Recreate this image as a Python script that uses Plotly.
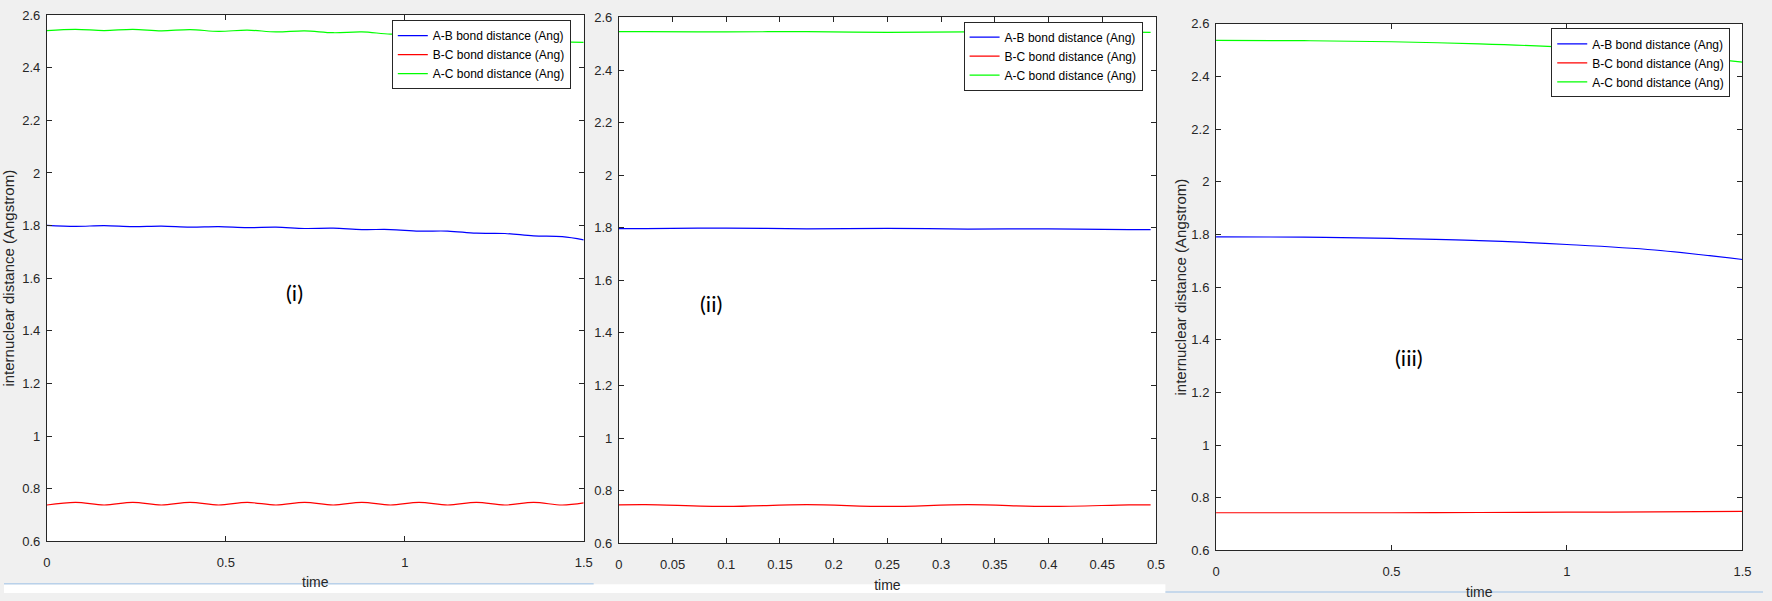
import plotly.graph_objects as go

# ---------------- data ----------------
series_names = ["A-B bond distance (Ang)", "B-C bond distance (Ang)", "A-C bond distance (Ang)"]
panel_labels = ["(i)", "(ii)", "(iii)"]

# panel (i)
t1 = [0, 0.08, 0.16, 0.24, 0.32, 0.40, 0.48, 0.56, 0.64, 0.72,
      0.80, 0.88, 0.96, 1.04, 1.12, 1.20, 1.28, 1.36, 1.44, 1.50]
ab1 = [1.801, 1.797, 1.800, 1.796, 1.798, 1.794, 1.796, 1.792, 1.794, 1.789,
       1.790, 1.785, 1.785, 1.779, 1.779, 1.771, 1.770, 1.761, 1.758, 1.746]
bc1 = [0.738, 0.748, 0.738, 0.748, 0.738, 0.748, 0.738, 0.748, 0.738, 0.748,
       0.738, 0.748, 0.738, 0.748, 0.738, 0.748, 0.738, 0.748, 0.738, 0.746]
ac1 = [2.541, 2.546, 2.541, 2.546, 2.540, 2.545, 2.538, 2.543, 2.536, 2.540,
       2.533, 2.536, 2.528, 2.529, 2.520, 2.519, 2.510, 2.508, 2.499, 2.496]

# panel (ii)
t2 = [0, 0.025, 0.10, 0.175, 0.25, 0.325, 0.40, 0.475, 0.495]
ab2 = [1.797, 1.797, 1.799, 1.796, 1.798, 1.795, 1.796, 1.793, 1.793]
bc2 = [0.746, 0.747, 0.740, 0.747, 0.740, 0.747, 0.740, 0.746, 0.746]
ac2 = [2.546, 2.546, 2.545, 2.546, 2.543, 2.545, 2.543, 2.544, 2.543]

# panel (iii)
t3 = [0, 0.25, 0.50, 0.75, 1.00, 1.25, 1.50]
ab3 = [1.791, 1.790, 1.785, 1.777, 1.762, 1.741, 1.705]
bc3 = [0.743, 0.743, 0.743, 0.744, 0.745, 0.746, 0.748]
ac3 = [2.537, 2.536, 2.532, 2.524, 2.511, 2.488, 2.455]

x_ticks_wide = [0, 0.5, 1, 1.5]
x_ticks_narrow = [0, 0.05, 0.1, 0.15, 0.2, 0.25, 0.3, 0.35, 0.4, 0.45, 0.5]
y_ticks = [0.6, 0.8, 1.0, 1.2, 1.4, 1.6, 1.8, 2.0, 2.2, 2.4, 2.6]

# ---------------- figure ----------------
W, H = 1772, 601
colors = ["#0000ff", "#ff0000", "#00ff00"]

panels = [
    (t1, [ab1, bc1, ac1], "x", "y", "legend"),
    (t2, [ab2, bc2, ac2], "x2", "y2", "legend2"),
    (t3, [ab3, bc3, ac3], "x3", "y3", "legend3"),
]

fig = go.Figure()
for t, ys, xa, ya, lg in panels:
    for name, y, c in zip(series_names, ys, colors):
        fig.add_trace(go.Scatter(
            x=t, y=y, mode="lines", name=name,
            line=dict(color=c, width=1.2, shape="spline", smoothing=1.0),
            xaxis=xa, yaxis=ya, legend=lg, showlegend=True,
        ))

# plot-area boxes in pixels (left, right, top, bottom)
boxes = [(43.2, 584.0, 8.3, 548.0),
         (619.4, 1160.5, 10.7, 550.0),
         (1221.0, 1751.3, 17.3, 557.3)]

def xdom(b):
    return [b[0] / W, b[1] / W]

def ydom(b):
    return [1 - b[3] / H, 1 - b[2] / H]

tickfont = dict(family="Arial, Liberation Sans, sans-serif", size=13, color="#262626")
xtitlefont = dict(family="Arial, Liberation Sans, sans-serif", size=14, color="#262626")
ytitlefont = dict(family="Arial, Liberation Sans, sans-serif", size=15, color="#262626")

def axis_common():
    return dict(showline=True, linecolor="#262626", linewidth=1, mirror="ticks",
                ticks="inside", ticklen=5, tickwidth=1, tickcolor="#262626",
                showgrid=False, zeroline=False, tickfont=tickfont, fixedrange=True)

xranges = [[0, 1.5], [0, 0.5], [0, 1.5]]
xtickvals = [x_ticks_wide, x_ticks_narrow, x_ticks_wide]
ytitles = ["internuclear distance (Angstrom)", None, "internuclear distance (Angstrom)"]
xstandoffs = [8, 9, 9]
ystandoffs = [8, 5, 1]

layout = dict(
    width=W, height=H,
    margin=dict(l=0, r=0, t=0, b=0),
    paper_bgcolor="#f0f0f0",
    plot_bgcolor="#ffffff",
    showlegend=True,
)

axnames = [("xaxis", "yaxis", "y", "x"), ("xaxis2", "yaxis2", "y2", "x2"), ("xaxis3", "yaxis3", "y3", "x3")]
for i, (xn, yn, yref, xref) in enumerate(axnames):
    b = boxes[i]
    xa = axis_common()
    xa.update(domain=xdom(b), range=xranges[i], tickvals=xtickvals[i],
              anchor=yref, ticklabelstandoff=9,
              title=dict(text="time", font=xtitlefont, standoff=xstandoffs[i]))
    ya = axis_common()
    ya.update(domain=ydom(b), range=[0.6, 2.6], tickvals=y_ticks,
              anchor=xref, ticklabelstandoff=3)
    if ytitles[i]:
        ya["title"] = dict(text=ytitles[i], font=ytitlefont, standoff=ystandoffs[i])
    layout[xn] = xa
    layout[yn] = ya

legend_pos = [(571, 13.5), (1147, 15.0), (1739, 22.0)]
for i, key in enumerate(["legend", "legend2", "legend3"]):
    rx, ty = legend_pos[i]
    layout[key] = dict(
        x=rx / W, y=1 - ty / H, xanchor="right", yanchor="top",
        bgcolor="#ffffff", bordercolor="#262626", borderwidth=1,
        font=dict(family="Arial, Liberation Sans, sans-serif", size=12, color="#000000"),
        itemwidth=30, tracegroupgap=0,
    )

fig.update_layout(**layout)

# panel labels
label_pos = [(0.693, 1.544, "x", "y"), (0.0856, 1.512, "x2", "y2"), (0.551, 1.334, "x3", "y3")]
for lab, (lx, ly, xr, yr) in zip(panel_labels, label_pos):
    fig.add_annotation(x=lx, y=ly, xref=xr, yref=yr, text=lab, showarrow=False,
                       font=dict(family="Lato, Open Sans, sans-serif", size=22, color="#000000"))

# screenshot frame details (white strips / separators at the bottom)
fig.add_shape(type="rect", xref="paper", yref="paper", x0=0, x1=1170 / W, y0=0, y1=1 - 592 / H,
              fillcolor="#ffffff", line=dict(width=0), layer="below")
fig.add_shape(type="line", xref="paper", yref="paper", x0=0, x1=594 / W,
              y0=1 - 591.5 / H, y1=1 - 591.5 / H, line=dict(color="#b9d1ea", width=1.5))
fig.add_shape(type="line", xref="paper", yref="paper", x0=1170 / W, x1=1,
              y0=1 - 600 / H, y1=1 - 600 / H, line=dict(color="#b9d1ea", width=1.5))

fig.write_html("out.html")
